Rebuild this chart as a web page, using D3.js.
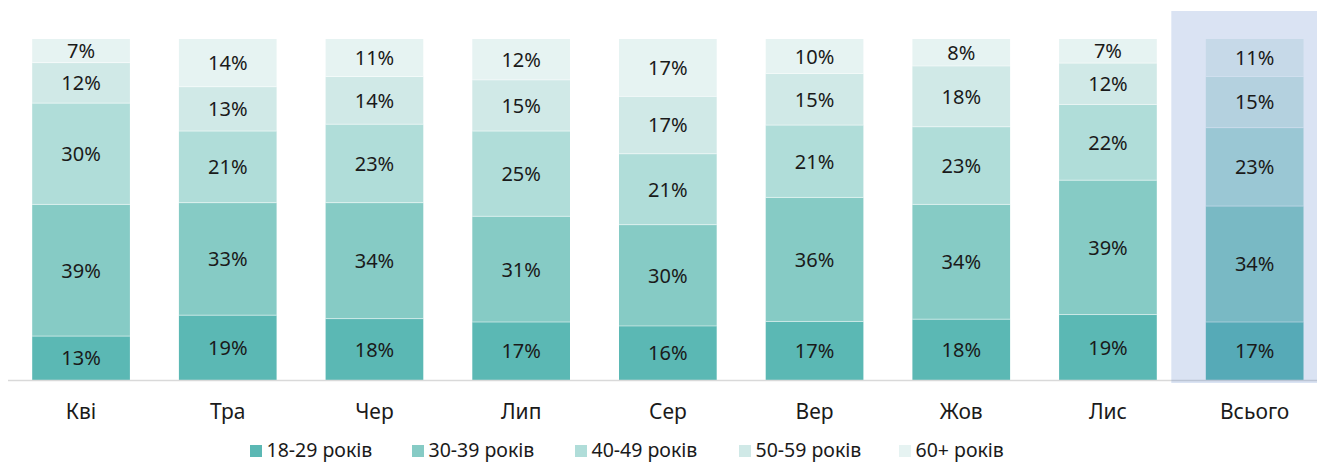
<!DOCTYPE html>
<html><head><meta charset="utf-8">
<script src="https://cdn.jsdelivr.net/npm/d3@7"></script>
<style>
html,body{margin:0;padding:0;background:#fff;overflow:hidden}
svg{display:block;font-family:"Noto Sans",Lato,sans-serif}
</style></head>
<body><svg id="c" width="1317" height="463"></svg>
<script>
const categories = ["Кві","Тра","Чер","Лип","Сер","Вер","Жов","Лис","Всього"];
const seriesNames = ["18-29 років","30-39 років","40-49 років","50-59 років","60+ років"];
const s18_29 = [13,19,18,17,16,17,18,19,17];
const s30_39 = [39,33,34,31,30,36,34,39,34];
const s40_49 = [30,21,23,25,21,21,23,22,23];
const s50_59 = [12,13,14,15,17,15,18,12,15];
const s60p   = [7,14,11,12,17,10,8,7,11];
const colors = ["#5bb8b4","#86cbc5","#b0ddd9","#d0e9e7","#e6f3f2"];

(function(){
const seriesArrays = [s18_29,s30_39,s40_49,s50_59,s60p];
const rows = categories.map((c,i)=>{
  const r = {cat:c};
  seriesNames.forEach((s,j)=>r[s]=seriesArrays[j][i]);
  return r;
});

const svg = d3.select("#c");
const plotTop = 39, plotBottom = 380;
const x = d3.scaleBand().domain(categories).range([7.7, 7.7+146.7*9]).paddingInner(0.334).paddingOuter(0.167);
const y = d3.scaleLinear().domain([0,1]).range([plotBottom, plotTop]);

const stack = d3.stack().keys(seriesNames).offset(d3.stackOffsetExpand);
const stacked = stack(rows);

const g = svg.append("g");
stacked.forEach((layer,j)=>{
  g.selectAll(null).data(layer).enter().append("rect")
    .attr("x", d=>x(d.data.cat))
    .attr("width", x.bandwidth())
    .attr("y", d=>y(d[1]))
    .attr("height", d=>y(d[0])-y(d[1]))
    .attr("fill", colors[j]);
});
stacked.forEach((layer,j)=>{
  if(j===0) return;
  g.selectAll(null).data(layer).enter().append("line")
    .attr("x1", d=>x(d.data.cat)).attr("x2", d=>x(d.data.cat)+x.bandwidth())
    .attr("y1", d=>y(d[0])).attr("y2", d=>y(d[0]))
    .attr("stroke","#ffffff").attr("stroke-opacity",0.5).attr("stroke-width",1);
});

svg.append("line").attr("x1",8).attr("x2",1317).attr("y1",380.5).attr("y2",380.5)
  .attr("stroke","#d9d9d9").attr("stroke-width",1.5);

const hx = x("Всього") - 34.5;
svg.append("rect").attr("x",hx).attr("y",11).attr("width",1317-hx+20).attr("height",383-11)
  .attr("fill","#4472c4").attr("fill-opacity",0.2);

stacked.forEach((layer,j)=>{
  svg.selectAll(null).data(layer).enter().append("text")
    .attr("x", d=>x(d.data.cat)+x.bandwidth()/2)
    .attr("y", d=>(y(d[0])+y(d[1]))/2)
    .attr("dy","0.37em")
    .attr("text-anchor","middle")
    .attr("font-size",20)
    .attr("fill","#1a1a1a")
    .text(d=>d.data[seriesNames[j]]+"%");
});

const xAxis = d3.axisBottom(x).tickSize(0).tickPadding(0);
const ax = svg.append("g").attr("transform","translate(0,419)").call(xAxis);
ax.select(".domain").remove();
ax.selectAll("text").attr("font-size",21).attr("fill","#1a1a1a")
  .attr("font-family","'Noto Sans', Lato, sans-serif").attr("dy","0").attr("y",0);

const legX = [250,412,575,739,899];
const leg = svg.append("g");
seriesNames.forEach((s,j)=>{
  leg.append("rect").attr("x",legX[j]).attr("y",445).attr("width",12).attr("height",12).attr("fill",colors[j]);
  leg.append("text").attr("x",legX[j]+16.5).attr("y",456.5)
    .attr("font-size",19.5).attr("fill","#1a1a1a").text(s);
});
})();
</script></body></html>
